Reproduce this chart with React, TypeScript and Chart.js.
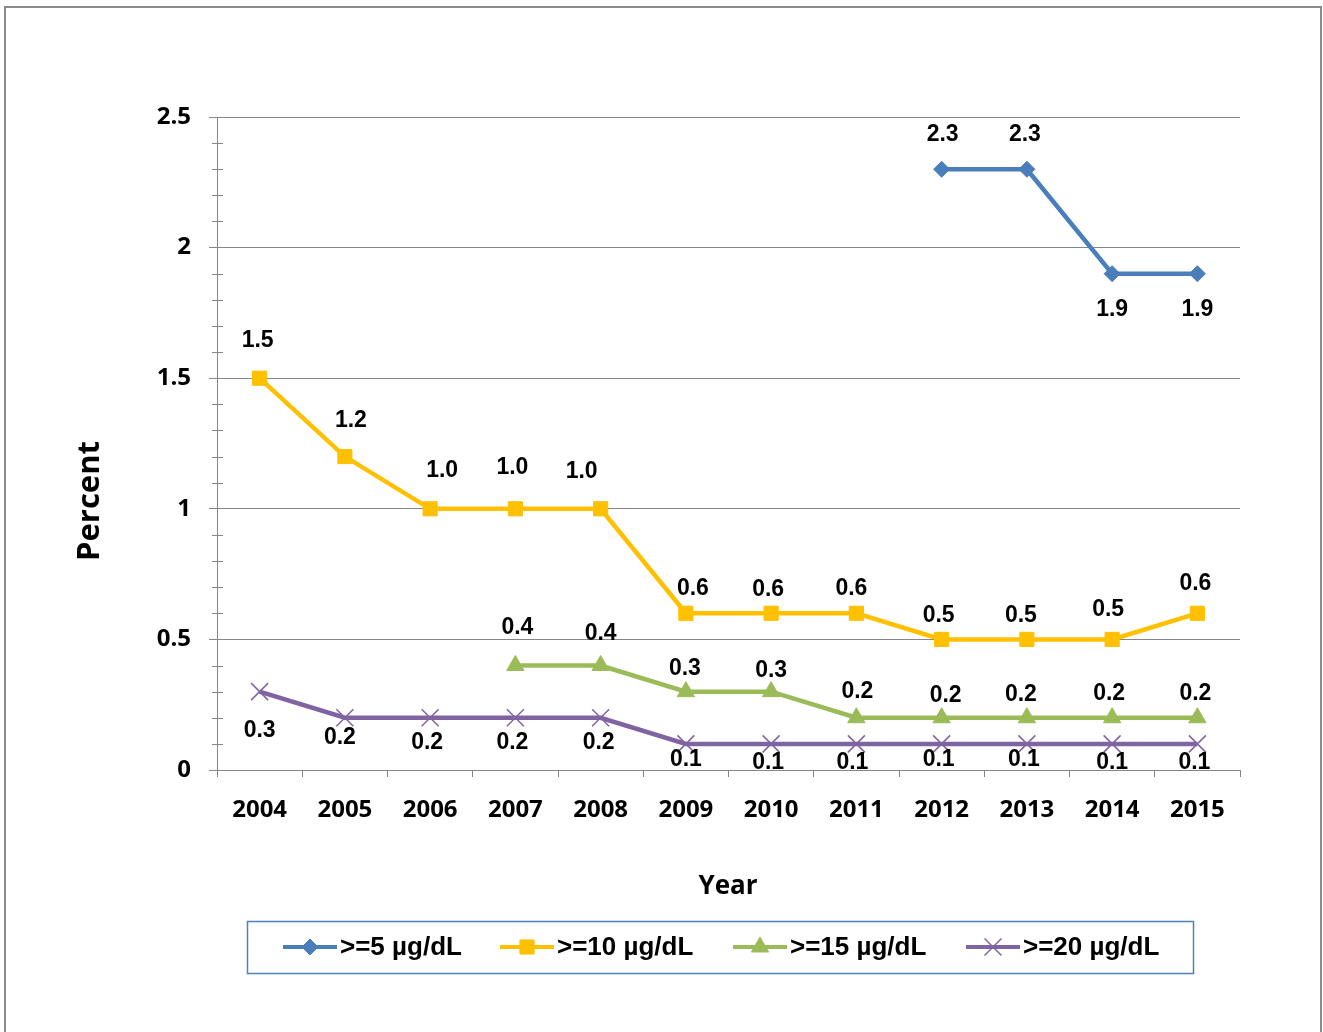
import React, { useEffect, useRef } from 'react';
import { Chart, registerables } from 'chart.js';
import { drawPoint } from 'chart.js/helpers';

Chart.register(...registerables);

const years = ['2004', '2005', '2006', '2007', '2008', '2009', '2010', '2011', '2012', '2013', '2014', '2015'];
const yTickValues = [0, 0.5, 1, 1.5, 2, 2.5];
const ge5 = [null, null, null, null, null, null, null, null, 2.3, 2.3, 1.9, 1.9];
const ge10 = [1.5, 1.2, 1.0, 1.0, 1.0, 0.6, 0.6, 0.6, 0.5, 0.5, 0.5, 0.6];
const ge15 = [null, null, null, 0.4, 0.4, 0.3, 0.3, 0.2, 0.2, 0.2, 0.2, 0.2];
const ge20 = [0.3, 0.2, 0.2, 0.2, 0.2, 0.1, 0.1, 0.1, 0.1, 0.1, 0.1, 0.1];
const seriesNames = ['>=5 µg/dL', '>=10 µg/dL', '>=15 µg/dL', '>=20 µg/dL'];
const yTitle = 'Percent';
const xTitle = 'Year';

// label offsets (style only): [dx, dy] per point
const labelOffsets5 = [[0, 0], [0, 0], [0, 0], [0, 0], [0, 0], [0, 0], [0, 0], [0, 0], [1, -35], [-2, -35], [0, 36], [0, 36]];
const labelOffsets10 = [[-2, -38], [6, -36], [12, -38], [-3, -41], [-19, -37], [7, -25], [-3, -24], [-5, -25], [-3, -24], [-6, -24], [-4, -30], [-2, -30]];
const labelOffsets15 = [[0, 0], [0, 0], [0, 0], [2, -38], [0, -32], [-1, -23], [0, -21], [1, -26], [4, -22], [-6, -23], [-3, -24], [-2, -24]];
const labelOffsets20 = [[0, 39], [-5, 20], [-3, 25], [-3, 25], [-2, 25], [0, 16], [-3, 19], [-4, 19], [-3, 16], [-3, 16], [0, 19], [-3, 19]];

const GRID = '#868686';
const TICK_FONT = { family: '"Open Sans"', size: 24, weight: 'bold' as const };

export default function App() {
  const ref = useRef<HTMLCanvasElement | null>(null);

  useEffect(() => {
    const canvas = ref.current;
    if (!canvas) return;
    const offsets = [labelOffsets5, labelOffsets10, labelOffsets15, labelOffsets20];

    const framePlugin = {
      id: 'frame',
      beforeDraw(chart: any) {
        const ctx = chart.ctx;
        ctx.save();
        ctx.fillStyle = '#ffffff';
        ctx.fillRect(0, 0, chart.width, chart.height);
        ctx.strokeStyle = '#8c8c8c';
        ctx.lineWidth = 2;
        ctx.strokeRect(5, 7, 1316, 1040);
        ctx.restore();
      },
    };

    const extrasPlugin = {
      id: 'extras',
      afterDraw(chart: any) {
        const ctx = chart.ctx;
        const y = chart.scales.y;
        const ca = chart.chartArea;
        ctx.save();
        // minor ticks
        ctx.strokeStyle = GRID;
        ctx.lineWidth = 1;
        for (let i = 1; i < 25; i++) {
          if (i % 5 === 0) continue;
          const py = Math.round(y.getPixelForValue(i / 10)) + 0.5;
          ctx.beginPath();
          ctx.moveTo(ca.left - 5, py);
          ctx.lineTo(ca.left + 6, py);
          ctx.stroke();
        }
        // axis titles
        ctx.fillStyle = '#000';
        ctx.textAlign = 'center';
        ctx.textBaseline = 'middle';
        ctx.font = 'bold 31px "Open Sans"';
        ctx.save();
        ctx.translate(90, 501);
        ctx.rotate(-Math.PI / 2);
        ctx.fillText(yTitle, 0, 0);
        ctx.restore();
        ctx.font = 'bold 26px "Open Sans"';
        ctx.fillText(xTitle, 728, 887);

        // legend
        ctx.strokeStyle = '#4F81BD';
        ctx.lineWidth = 1.5;
        ctx.strokeRect(247.5, 921.5, 946, 52);
        const starts = [283, 500, 733, 966];
        const ly = 947;
        chart.data.datasets.forEach((ds: any, i: number) => {
          const x0 = starts[i];
          ctx.strokeStyle = ds.borderColor;
          ctx.lineWidth = 4;
          ctx.beginPath();
          ctx.moveTo(x0, ly);
          ctx.lineTo(x0 + 54, ly);
          ctx.stroke();
          ctx.fillStyle = ds.pointBackgroundColor;
          ctx.strokeStyle = ds.pointBorderColor;
          ctx.lineWidth = ds.pointBorderWidth;
          drawPoint(ctx, { pointStyle: ds.pointStyle, radius: ds.pointRadius, rotation: 0, borderWidth: ds.pointBorderWidth }, x0 + 27, ly);
          ctx.fillStyle = '#000';
          ctx.textAlign = 'left';
          ctx.textBaseline = 'middle';
          ctx.font = 'bold 26px "Liberation Sans"';
          ctx.fillText(ds.label, x0 + 57, ly + 1);
        });
        ctx.restore();
      },
      afterDatasetsDraw(chart: any) {
        const ctx = chart.ctx;
        ctx.save();
        ctx.fillStyle = '#000';
        ctx.textAlign = 'center';
        ctx.textBaseline = 'middle';
        ctx.font = 'bold 23px "Liberation Sans"';
        chart.data.datasets.forEach((ds: any, i: number) => {
          const meta = chart.getDatasetMeta(i);
          meta.data.forEach((pt: any, j: number) => {
            const v = ds.data[j];
            if (v === null || v === undefined) return;
            const [dx, dy] = offsets[i][j];
            ctx.fillText(Number(v).toFixed(1), pt.x + dx, pt.y + dy);
          });
        });
        ctx.restore();
      },
    };

    const mk = (label: string, data: (number | null)[], color: string, style: string, radius: number, fill: string, bw: number) => ({
      label,
      data,
      borderColor: color,
      backgroundColor: color,
      borderWidth: 4.5,
      pointStyle: style,
      pointRadius: radius,
      pointHoverRadius: radius,
      pointBackgroundColor: fill,
      pointBorderColor: color,
      pointBorderWidth: bw,
      tension: 0,
      spanGaps: false,
    });

    const chart = new Chart(canvas, {
      type: 'line',
      data: {
        labels: years,
        datasets: [
          mk(seriesNames[0], ge5, '#4A7EBB', 'rectRot', 8, '#4A7EBB', 1),
          mk(seriesNames[1], ge10, '#FFC000', 'rect', 10, '#FFC000', 1),
          mk(seriesNames[2], ge15, '#9BBB59', 'triangle', 10, '#9BBB59', 1),
          mk(seriesNames[3], ge20, '#8064A2', 'crossRot', 12, '#8064A2', 1.5),
        ] as any,
      },
      options: {
        responsive: false,
        animation: false,
        events: [],
        layout: { padding: { left: 0, right: 83, top: 117, bottom: 0 } },
        plugins: {
          legend: { display: false },
          tooltip: { enabled: false },
          title: { display: false },
        },
        scales: {
          x: {
            type: 'category',
            offset: true,
            afterFit: (s: any) => { s.height = 262; },
            grid: { offset: true, drawOnChartArea: false, drawTicks: true, tickLength: 7, color: GRID, lineWidth: 1 },
            border: { display: true, color: GRID, width: 1 },
            ticks: { color: '#000', font: TICK_FONT, padding: 19, maxRotation: 0, autoSkip: false },
          },
          y: {
            type: 'linear',
            min: 0,
            max: 2.5,
            afterFit: (s: any) => { s.width = 217; },
            afterBuildTicks: (s: any) => { s.ticks = yTickValues.map((v) => ({ value: v })); },
            grid: { drawOnChartArea: true, drawTicks: true, tickLength: 8, color: GRID, lineWidth: 1 },
            border: { display: true, color: GRID, width: 1 },
            ticks: { color: '#000', font: TICK_FONT, padding: 18, callback: (v: any) => String(v) },
          },
        },
      } as any,
      plugins: [framePlugin, extrasPlugin],
    });

    return () => chart.destroy();
  }, []);

  return (
    <div style={{ position: 'absolute', left: 0, top: 0, width: 1323, height: 1032, overflow: 'hidden', background: '#fff' }}>
      <canvas ref={ref} width={1323} height={1032} style={{ display: 'block' }} />
    </div>
  );
}
